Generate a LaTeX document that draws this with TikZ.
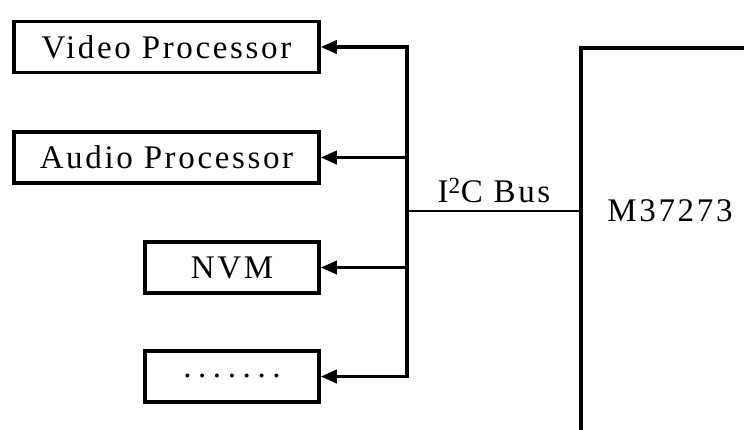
\documentclass[tikz,border=0pt]{standalone}
\usepackage{fontspec}
\setmainfont{Liberation Serif}
\usetikzlibrary{arrows.meta}
\newcommand{\blockfont}{\fontsize{33}{38}\selectfont\addfontfeature{LetterSpace=8}}
\newcommand{\moredots}{\addfontfeature{LetterSpace=20}.......}
\tikzset{
  blockbox/.style={draw, line width=3.5pt, inner sep=0pt, minimum height=51pt, font=\blockfont},
  busline/.style={line width=3.5pt},
  feedarrow/.style={line width=3.5pt, -{Triangle[length=16pt,width=13pt]}},
}
\begin{document}
\begin{tikzpicture}[x=1pt,y=1pt,yscale=-1,xscale=1]
\useasboundingbox (0,0) rectangle (744,429);

% Blocks on the bus
\node [blockbox, minimum width=305pt] (video) at (166.5,47) {Video Processor};
\node [blockbox, minimum width=305pt] (audio) at (166.5,157.5) {Audio Processor};
\node [blockbox, minimum width=174pt] (nvm) at (232,267.5) {NVM};
\node [blockbox, minimum width=174pt] (more) at (232,376.5) {\moredots};

% Bus points
\coordinate (busTop) at (407,47);
\coordinate (busBot) at (407,376.5);
\coordinate (busMid) at (407,211);
\coordinate (mcuTL) at (581,48);

% Controller (runs off the page)
\draw [line width=3.5pt] (760,48) -- (mcuTL) -- (581,445);
\node [font=\blockfont, inner sep=0.75pt] (mcu) at (670,211) {M37273};

% Bus
\draw [busline, line cap=rect] (busTop) -- (busBot);
\draw [feedarrow] (busTop) -- (video.east);
\draw [feedarrow] (audio.east -| busTop) -- (audio.east);
\draw [feedarrow] (nvm.east -| busTop) -- (nvm.east);
\draw [feedarrow] (busBot) -- (more.east);
\draw [line width=2.2pt] (busMid) -- (mcuTL |- busMid);

% Text Node
\node [font=\blockfont, inner sep=0.75pt, anchor=south] (buslabel) at (494,204) {I\textsuperscript{2}C Bus};

\end{tikzpicture}
\end{document}
